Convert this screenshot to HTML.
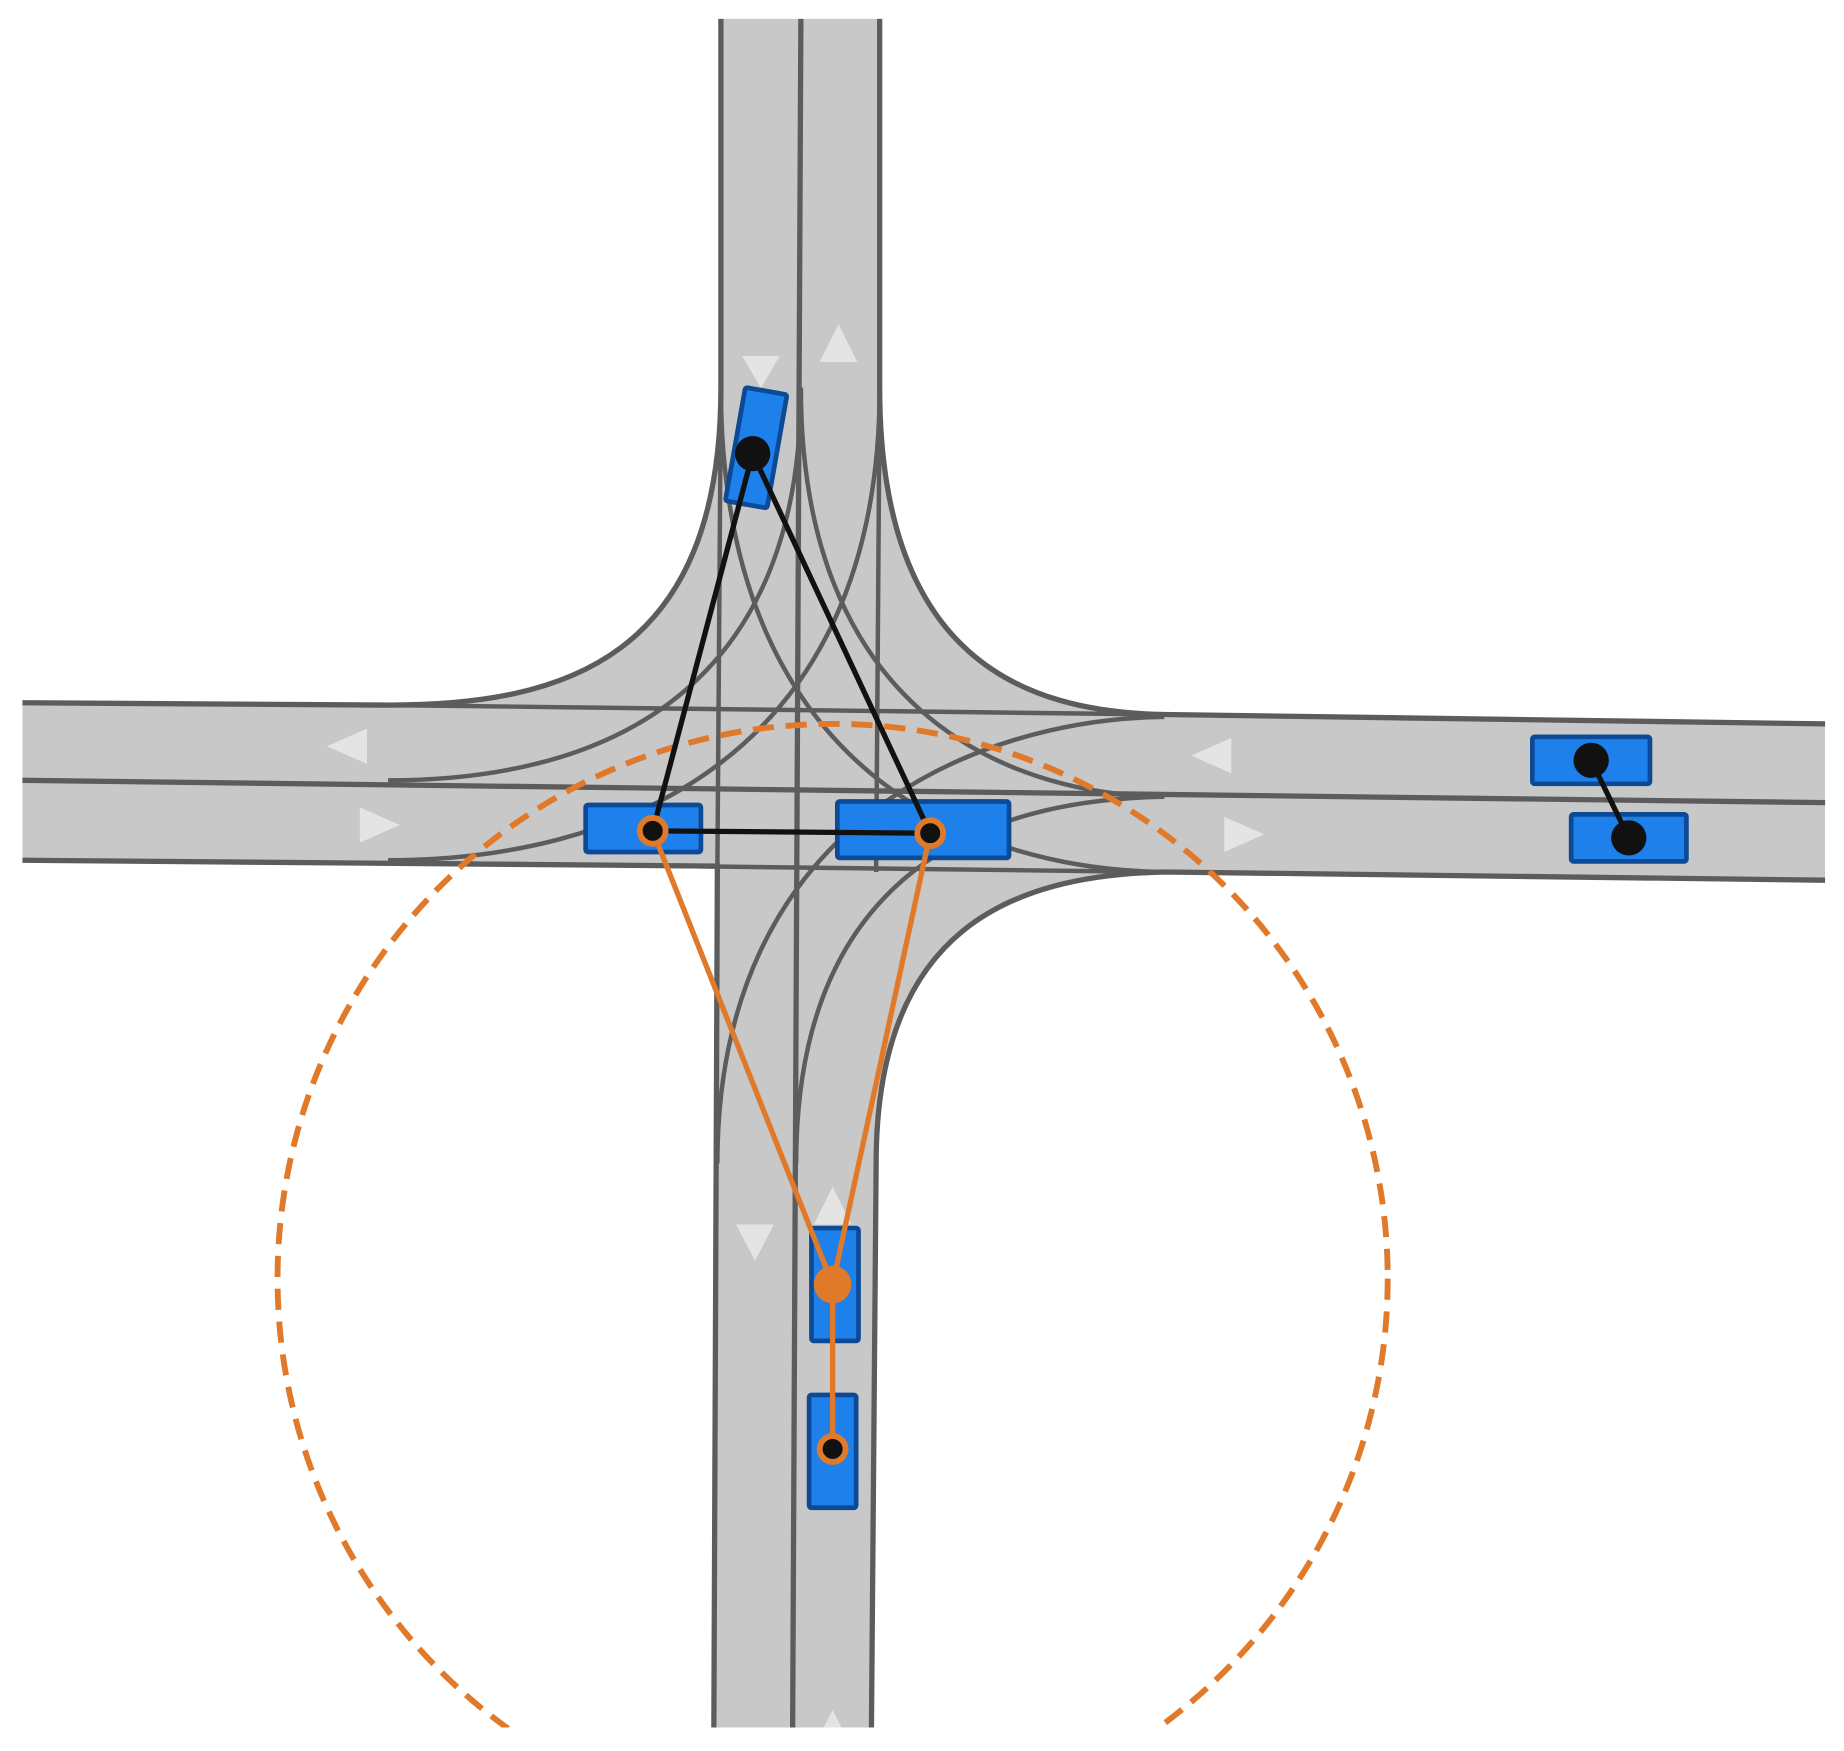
<!DOCTYPE html>
<html><head><meta charset="utf-8"><style>html,body{margin:0;padding:0;background:#fff}svg{display:block}</style></head>
<body>
<svg width="1844" height="1751" viewBox="0 0 1568 1490" preserveAspectRatio="none" xmlns="http://www.w3.org/2000/svg">
<defs><clipPath id="c"><rect x="19" y="16" width="1533" height="1454"/></clipPath></defs>
<g clip-path="url(#c)">
<path d="M613,16 L748,16 L748,330 C748,560 870,606 990,608 L1552,616 L1552,749 L990,742 C860,745 745,790 745,990 L741,1470 L607,1470 L610,737 L19,732 L19,598 L330,600 C480,600 613,560 613,330 Z" fill="#c8c8c8"/>
<g fill="none" stroke="#5c5c5c" stroke-width="4.5">
<path d="M613,16 L613,330 C613,560 480,600 330,600 L19,598"/>
<path d="M748,16 L748,330 C748,560 870,606 990,608 L1552,616"/>
<path d="M19,732 L610,737 L607,1470"/>
<path d="M1552,749 L990,742 C860,745 745,790 745,990 L741,1470"/>
<path d="M681,16 L674,1470"/>
<path d="M19,664 L1552,683"/>
</g>
<g fill="none" stroke="#5c5c5c" stroke-width="3.8">
<path d="M613,330 L610,740"/>
<path d="M748,330 L745,742"/>
<path d="M330,600 L990,608"/>
<path d="M330,734 L990,742"/>
<path d="M681,330 C681,600 500,664 330,664"/>
<path d="M748,330 C748,650 520,732 330,732"/>
<path d="M681,330 C681,600 850,676 990,678"/>
<path d="M613,330 C613,660 830,740 990,742"/>
<path d="M677,990 C677,740 840,680 990,678"/>
<path d="M610,990 C610,700 830,612 990,610"/>
</g>
<g fill="#e4e4e4">
<polygon points="278,635 312,620 312,650"/>
<polygon points="340,702 306,687 306,717"/>
<polygon points="1013,643 1047,628 1047,658"/>
<polygon points="1075,710 1041,695 1041,725"/>
<polygon points="647,330 631,303 663,303"/>
<polygon points="713,276 697,308 729,308"/>
<polygon points="642,1073 626,1042 658,1042"/>
<polygon points="708,1010 692,1042 724,1042"/>
<polygon points="708,1455 692,1487 724,1487"/>
</g>
<circle cx="708" cy="1088" r="472" fill="none" stroke="#e07a2a" stroke-width="5" stroke-dasharray="18,10"/>
</g>
<g fill="#1e80ea" stroke="#0d4a96" stroke-width="4">
<rect x="625" y="332" width="36" height="98" rx="2" transform="rotate(10 643 381)"/>
<rect x="498" y="685" width="98" height="40" rx="2"/>
<rect x="712" y="682" width="146" height="48" rx="2"/>
<rect x="1303" y="627" width="100" height="40" rx="2"/>
<rect x="1336" y="693" width="98" height="40" rx="2"/>
<rect x="690" y="1045" width="40" height="96" rx="2"/>
<rect x="688" y="1187" width="40" height="96" rx="2"/>
</g>
<g stroke="#111" stroke-width="4.5" fill="none">
<line x1="640" y1="386" x2="555" y2="707"/>
<line x1="640" y1="386" x2="791" y2="709"/>
<line x1="555" y1="707" x2="791" y2="709"/>
<line x1="1353" y1="647" x2="1385" y2="713"/>
</g>
<g stroke="#e07a2a" stroke-width="4.5" fill="none">
<line x1="555" y1="707" x2="708" y2="1093"/>
<line x1="791" y1="709" x2="708" y2="1093"/>
<line x1="708" y1="1093" x2="708" y2="1233"/>
</g>
<g fill="#111">
<circle cx="640" cy="386" r="15"/>
<circle cx="1353" cy="647" r="15"/>
<circle cx="1385" cy="713" r="15"/>
</g>
<g fill="#111" stroke="#e07a2a" stroke-width="5">
<circle cx="555" cy="707" r="11"/>
<circle cx="791" cy="709" r="11"/>
<circle cx="708" cy="1233" r="11"/>
</g>
<circle cx="708" cy="1093" r="16" fill="#e07a2a"/>
</svg>
</body></html>
